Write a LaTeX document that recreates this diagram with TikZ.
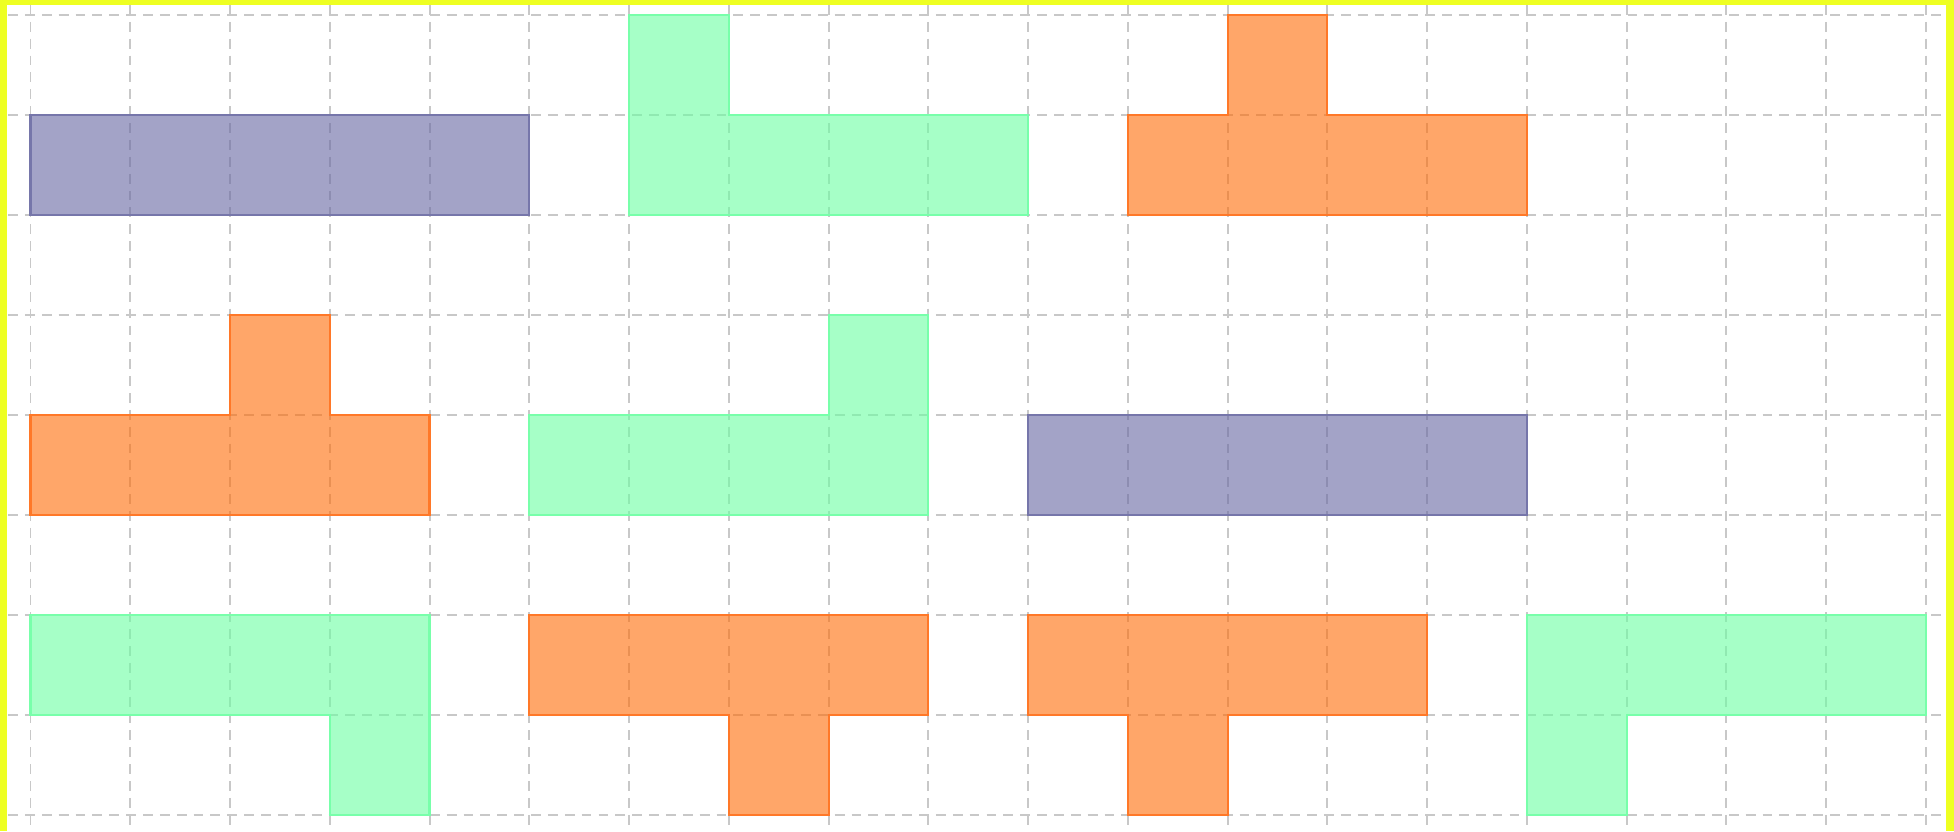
\documentclass[tikz,border=0pt]{standalone}
\usetikzlibrary{calc}
\definecolor{gridgray}{RGB}{200,200,200}
\definecolor{frameyellow}{RGB}{238,255,34}
\definecolor{pfill}{RGB}{102,102,162}
\definecolor{pline}{RGB}{118,118,170}
\definecolor{gfill}{RGB}{107,255,163}
\definecolor{gline}{RGB}{120,255,170}
\definecolor{ofill}{RGB}{255,107,5}
\definecolor{oline}{RGB}{255,120,40}
\tikzset{
  gridline/.style={draw=gridgray, line width=0.55pt, dash pattern=on 2.8pt off 2pt},
  purpleshape/.style={fill=pfill, fill opacity=0.6, draw=pline, draw opacity=1, line width=0.6pt},
  greenshape/.style={fill=gfill, fill opacity=0.6, draw=gline, draw opacity=1, line width=0.6pt},
  orangeshape/.style={fill=ofill, fill opacity=0.6, draw=oline, draw opacity=1, line width=0.6pt},
  yellowbar/.style={fill=frameyellow, draw=none}
}
\begin{document}
\begin{tikzpicture}
\useasboundingbox (0,0) rectangle (19.54,8.31);
\fill[white] (0,0) rectangle (19.54,8.31);
\begin{scope}[shift={(0.305,8.16)}, x=0.9976cm, y=-1cm]
  % grid
  \foreach \c in {0,...,19} \draw[gridline] (\c,-0.10) -- (\c,8.11);
  \foreach \r in {0,...,8} \draw[gridline] (-0.225,\r) -- (19.19,\r);
  % row 1
  \draw[purpleshape] (0,1) -- (5,1) -- (5,2) -- (0,2) -- cycle;
  \draw[greenshape] (6,0) -- (7,0) -- (7,1) -- (10,1) -- (10,2) -- (6,2) -- cycle;
  \draw[orangeshape] (11,1) -- (12,1) -- (12,0) -- (13,0) -- (13,1) -- (15,1) -- (15,2) -- (11,2) -- cycle;
  % row 2
  \draw[orangeshape] (0,4) -- (2,4) -- (2,3) -- (3,3) -- (3,4) -- (4,4) -- (4,5) -- (0,5) -- cycle;
  \draw[greenshape] (5,4) -- (8,4) -- (8,3) -- (9,3) -- (9,5) -- (5,5) -- cycle;
  \draw[purpleshape] (10,4) -- (15,4) -- (15,5) -- (10,5) -- cycle;
  % row 3
  \draw[greenshape] (0,6) -- (4,6) -- (4,8) -- (3,8) -- (3,7) -- (0,7) -- cycle;
  \draw[orangeshape] (5,6) -- (9,6) -- (9,7) -- (8,7) -- (8,8) -- (7,8) -- (7,7) -- (5,7) -- cycle;
  \draw[orangeshape] (10,6) -- (14,6) -- (14,7) -- (12,7) -- (12,8) -- (11,8) -- (11,7) -- (10,7) -- cycle;
  \draw[greenshape] (15,6) -- (19,6) -- (19,7) -- (16,7) -- (16,8) -- (15,8) -- cycle;
\end{scope}
% yellow frame
\fill[yellowbar] (0,0) rectangle (0.07,8.31);
\fill[yellowbar] (0,8.26) rectangle (19.54,8.31);
\fill[yellowbar] (19.46,0) rectangle (19.54,8.31);
\end{tikzpicture}
\end{document}
